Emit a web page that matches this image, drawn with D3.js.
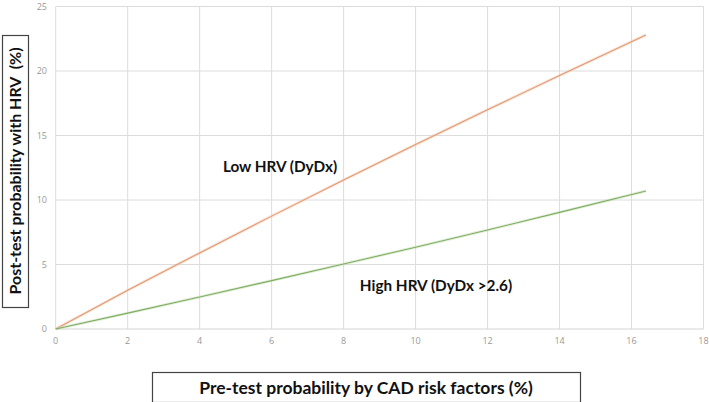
<!DOCTYPE html>
<html><head><meta charset="utf-8">
<script src="https://cdn.jsdelivr.net/npm/d3@7"></script>
<style>body{margin:0;background:#fff}svg{display:block}</style>
</head><body>
<svg id="c" width="709" height="402"></svg>
<script>
const preTest = [0, 2, 4, 6, 8, 10, 12, 14, 16.4];
const lowHRV = [0, 3.0, 5.9, 8.75, 11.55, 14.3, 17.0, 19.65, 22.8];
const highHRV = [0, 1.23, 2.48, 3.75, 5.04, 6.34, 7.68, 9.04, 10.7];
const xTicks = [0, 2, 4, 6, 8, 10, 12, 14, 16, 18];
const yTicks = [0, 5, 10, 15, 20, 25];
const seriesNames = ["Low HRV (DyDx)", "High HRV (DyDx >2.6)"];
const xTitle = "Pre-test probability by CAD risk factors (%)";
const yTitle = "Post-test probability with HRV  (%)";

const svg = d3.select("#c");
const x = d3.scaleLinear().domain([0, 18]).range([55.7, 703.5]);
const y = d3.scaleLinear().domain([0, 25]).range([329, 6.5]);

// grid
svg.append("g").selectAll("line.v").data(xTicks.slice(1)).join("line")
  .attr("x1", d => x(d)).attr("x2", d => x(d)).attr("y1", y(25)).attr("y2", y(0))
  .attr("stroke", "#dcdcdc").attr("stroke-width", 1);
svg.append("g").selectAll("line.h").data(yTicks.slice(1)).join("line")
  .attr("x1", x(0)).attr("x2", x(18)).attr("y1", d => y(d)).attr("y2", d => y(d))
  .attr("stroke", "#dcdcdc").attr("stroke-width", 1);
svg.append("line").attr("x1", x(0)).attr("x2", x(0)).attr("y1", y(25)).attr("y2", y(0)).attr("stroke", "#dcdcdc");
svg.append("line").attr("x1", x(0)).attr("x2", x(18)).attr("y1", y(0)).attr("y2", y(0)).attr("stroke", "#d4d4d4");

// tick labels
const tickFont = "'Open Sans', 'Liberation Sans', sans-serif";
svg.append("g").selectAll("text").data(xTicks).join("text")
  .attr("x", d => x(d)).attr("y", 344).attr("text-anchor", "middle")
  .attr("font-family", tickFont).attr("font-size", 9).attr("fill", "#999").text(d => d);
svg.append("g").selectAll("text").data(yTicks).join("text")
  .attr("x", 47).attr("y", d => y(d) + 3).attr("text-anchor", "end")
  .attr("font-family", tickFont).attr("font-size", 9).attr("fill", "#999").text(d => d);

// lines
const line = d3.line().x(d => x(d[0])).y(d => y(d[1]));
const lowData = preTest.map((p, i) => [p, lowHRV[i]]);
const highData = preTest.map((p, i) => [p, highHRV[i]]);
[[lowData, "#efc6ae", "#e29a72"], [highData, "#c5dcb4", "#7eae62"]].forEach(([dat, glow, col]) => {
  svg.append("path").datum(dat).attr("d", line).attr("fill", "none")
    .attr("stroke", glow).attr("stroke-width", 3).attr("stroke-opacity", 0.45);
  svg.append("path").datum(dat).attr("d", line).attr("fill", "none")
    .attr("stroke", col).attr("stroke-width", 1.1);
});

// series labels
const lblFont = "Lato, 'Open Sans', sans-serif";
svg.append("text").attr("x", 280).attr("y", 172).attr("text-anchor", "middle")
  .attr("font-family", lblFont).attr("font-weight", "bold").attr("font-size", 15.3).attr("fill", "#111")
  .text(seriesNames[0]);
svg.append("text").attr("x", 436).attr("y", 291).attr("text-anchor", "middle")
  .attr("font-family", lblFont).attr("font-weight", "bold").attr("font-size", 15.3).attr("fill", "#111")
  .text(seriesNames[1]);

// x title box
svg.append("rect").attr("x", 152.5).attr("y", 372.5).attr("width", 428).attr("height", 30)
  .attr("fill", "#fff").attr("stroke", "#444").attr("stroke-width", 1.2);
svg.append("text").attr("x", 366).attr("y", 394).attr("text-anchor", "middle")
  .attr("font-family", lblFont).attr("font-weight", "bold").attr("font-size", 17.5).attr("fill", "#111")
  .text(xTitle);

// y title box
svg.append("rect").attr("x", 2.5).attr("y", 35.5).attr("width", 26).attr("height", 272)
  .attr("fill", "#fff").attr("stroke", "#444").attr("stroke-width", 1.2);
svg.append("text").attr("transform", "translate(21,171) rotate(-90)").attr("text-anchor", "middle")
  .style("white-space", "pre")
  .attr("font-family", lblFont).attr("font-weight", "bold").attr("font-size", 16).attr("fill", "#111")
  .text(yTitle);
</script>
</body></html>
